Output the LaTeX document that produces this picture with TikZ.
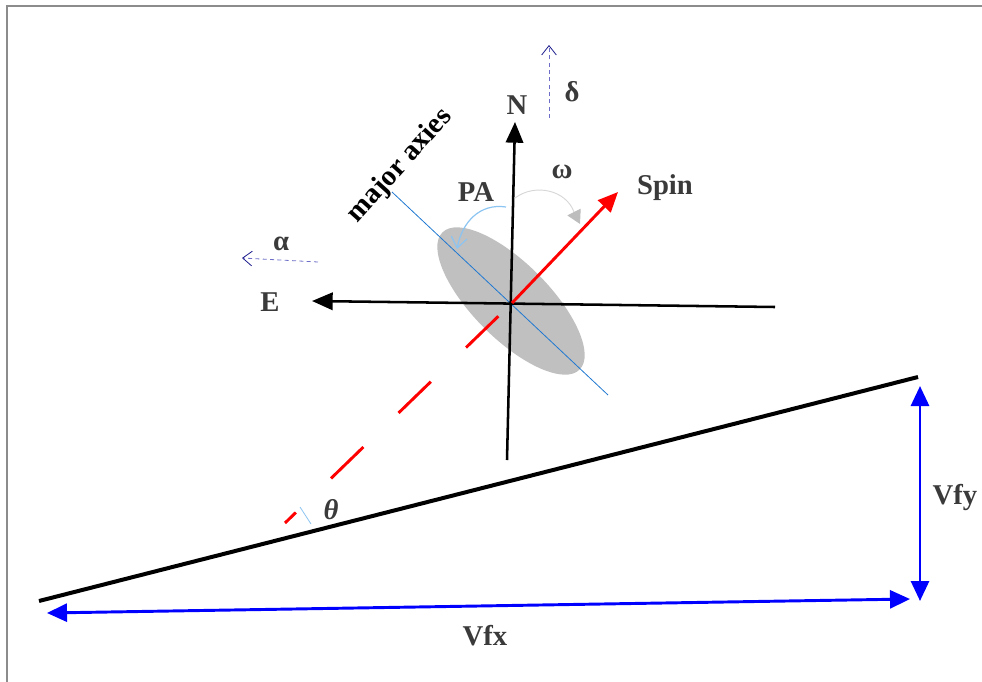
\documentclass[tikz,border=0pt]{standalone}
\usepackage{fontspec}
\setmainfont{Liberation Serif}
\usetikzlibrary{arrows.meta,calc}
\definecolor{labelgray}{HTML}{3A3A3A}
\definecolor{framegray}{HTML}{8C8C8C}
\definecolor{ellgray}{HTML}{C0C0C0}
\definecolor{paBlue}{HTML}{8CC4F2}
\definecolor{axisBlue}{HTML}{1F78D1}
\definecolor{navy}{HTML}{1C1C8C}
\definecolor{dashnavy}{HTML}{6E6EC8}
\definecolor{omegagray}{HTML}{BDBDBD}
\begin{document}
\begin{tikzpicture}[x=0.75pt,y=-0.75pt,
  lbl/.style={text=labelgray,font=\fontsize{21.5}{25}\selectfont\bfseries,inner sep=0pt},
  axisarrow/.style={line width=1.9pt,-{Triangle[length=15.5pt,width=13pt]}},
  vfarrow/.style={draw=blue,line width=2.2pt,{Triangle[length=15pt,width=13.5pt]}-{Triangle[length=15pt,width=13.5pt]}},
  coordarrow/.style={draw=dashnavy,dash pattern=on 3pt off 2.5pt,line width=0.6pt,-{Straight Barb[length=7pt,width=11pt,color=navy,line width=0.6pt]}}]
\useasboundingbox (0,0) rectangle (982,682);
% frame
\draw[framegray,line width=1.2pt] (7,682) -- (7,6) -- (982,6);
% coordinates
\coordinate (O) at (512,303);
\coordinate (EC) at (511,301);
\coordinate (Nbot) at (507,460);
\coordinate (Ntip) at (515,122);
\coordinate (Eright) at (775,307);
\coordinate (Etip) at (312,301);
\coordinate (Stip) at (618,192);
\coordinate (Dend) at (285,523);
\coordinate (Ma) at (392,192);
\coordinate (Mb) at (608,395);
\coordinate (L1) at (39,601);
\coordinate (L2) at (918,377);
\coordinate (Vy1) at (920,386);
\coordinate (Vy2) at (920,601);
\coordinate (Vx1) at (47,613);
\coordinate (Vx2) at (910,599);
\coordinate (Ds) at (549,118);
\coordinate (De) at (549,45);
\coordinate (As) at (318,262);
\coordinate (Ae) at (242,258);
\coordinate (PAs) at (506,207);
\coordinate (PAe) at (457,249);
\coordinate (Ws) at (515,198);
\coordinate (Wm) at (574,212);
\coordinate (We) at (580,224);
\coordinate (Ts) at (300,507);
\coordinate (Te) at (311,524);
% ellipse
\fill[ellgray,rotate around={-45:(EC)}] (EC) ellipse [x radius=72.75pt,y radius=28.5pt];
% major axis line
\draw[axisBlue,line width=0.6pt] (Ma) -- (Mb);
% N and E axes
\draw[axisarrow] (Nbot) -- (Ntip);
\draw[axisarrow] (Eright) -- (Etip);
% spin
\draw[red,line width=2.2pt,-{Triangle[length=15pt,width=13pt]}] (O) -- (Stip);
\draw[red,line width=2.2pt,dash pattern=on 33.75pt off 36.75pt,dash phase=56.25pt] (O) -- (Dend);
% inclined line
\draw[black,line width=3pt] (L1) -- (L2);
% Vf arrows
\draw[vfarrow] (Vy1) -- (Vy2);
\draw[vfarrow] (Vx1) -- (Vx2);
% coordinate arrows
\draw[coordarrow] (Ds) -- (De);
\draw[coordarrow] (As) -- (Ae);
% PA arc
\draw[paBlue,line width=0.9pt,-{Straight Barb[length=8pt,width=12pt]}] (PAs) .. controls (480,203) and (462,222) .. (PAe);
% omega arc
\draw[omegagray!60,line width=0.7pt] (Ws) .. controls (535,183) and (566,190) .. (Wm);
\draw[omegagray!60,line width=0.7pt,-{Triangle[length=10pt,width=11pt,color=omegagray]}] (Wm) -- (We);
% theta tick
\draw[paBlue,line width=0.6pt] (Ts) -- (Te);
% labels
\node[lbl] (nN) at (517,105) {N};
\node[lbl] (nD) at (572,92) {δ};
\node[lbl] (nW) at (562,172) {ω};
\node[lbl] (nPA) at (476,192) {PA};
\node[lbl] (nS) at (665,188) {Spin};
\node[lbl] (nA) at (281,244) {α};
\node[lbl] (nE) at (270,302) {E};
\node[lbl,font=\fontsize{21.5}{25}\selectfont\bfseries\itshape] (nT) at (331,510) {θ};
\node[lbl] (nVfy) at (955,497) {Vfy};
\node[lbl] (nVfx) at (485,636) {Vfx};
\node[lbl,text=black,rotate=48] (nMA) at (400,166) {major axies};
\end{tikzpicture}
\end{document}
